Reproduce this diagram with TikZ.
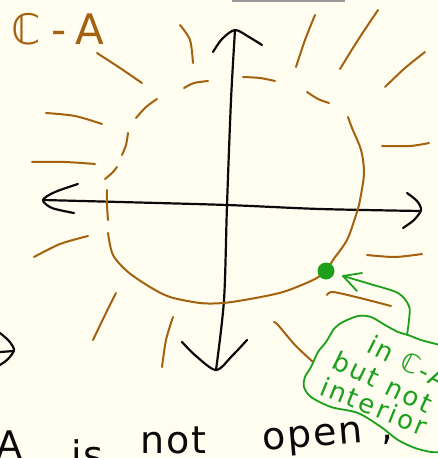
\documentclass[tikz,border=0pt]{standalone}
\usepackage{fontspec}
\setmainfont{DejaVu Sans}
\newfontfamily\handA[LetterSpace=25]{DejaVu Sans}
\newfontfamily\handB[LetterSpace=10]{DejaVu Sans}
\newfontfamily\handC[LetterSpace=5]{DejaVu Sans}
\definecolor{paper}{RGB}{254,253,240}
\definecolor{penbrown}{RGB}{164,98,16}
\definecolor{pengreen}{RGB}{28,160,28}
\definecolor{penblack}{RGB}{10,10,10}
\tikzset{
  brownstroke/.style={draw=penbrown, line width=2pt, line cap=round, line join=round},
  blackstroke/.style={draw=penblack, line width=2.2pt, line cap=round, line join=round},
  greenstroke/.style={draw=pengreen, line width=1.8pt, line cap=round, line join=round},
  greentext/.style={text=pengreen, inner sep=0pt, anchor=base west, font=\handB\fontsize{26}{26}\selectfont},
  blacktext/.style={text=penblack, inner sep=0pt, anchor=base west, font=\handC\fontsize{38}{38}\selectfont},
}
\begin{document}
\begin{tikzpicture}[x=1pt,y=-1pt]
\useasboundingbox (0,0) rectangle (438,458);
\fill[paper] (0,0) rectangle (438,458);
\clip (0,0) rectangle (438,458);
% top grey sliver
\draw[gray!80, line width=2pt] (232,0.5) -- (345,0.5);
% title
\node[text=penbrown, inner sep=0pt, anchor=base west, font=\handA\fontsize{42}{42}\selectfont] (title) at (11,44) {ℂ-A};
% axes
\draw[blackstroke] plot[smooth] coordinates {(43,200) (120,202) (227,205) (320,209) (421,211)};
\draw[blackstroke] plot[smooth] coordinates {(78,184) (55,192) (43,200) (52,208) (74,213)};
\draw[blackstroke] plot[smooth] coordinates {(407,193) (417,201) (421,210) (414,220) (403,228)};
\draw[blackstroke] plot[smooth] coordinates {(235,30) (231,100) (227,205) (224,300) (216,370)};
\draw[blackstroke] plot[smooth] coordinates {(213,52) (222,39) (235,30) (249,37) (262,45)};
\draw[blackstroke] plot[smooth] coordinates {(182,342) (196,356) (216,370) (232,356) (247,340)};
% left-edge fragment
\draw[blackstroke] plot[smooth] coordinates {(0,333) (9,341) (14,350) (8,359) (0,365)};
\draw[blackstroke] (0,352) -- (14,351);
% brown boundary (solid part)
\draw[brownstroke] plot[smooth] coordinates {(348,117) (352,128) (361,150) (364,173) (360,200) (356,215) (347,240) (333,260) (326,271) (313,280) (283,292) (250,299) (223,303) (200,303) (170,297) (150,287) (128,272) (113,255) (108,233)};
% brown boundary (dashed part)
\draw[brownstroke] plot[smooth] coordinates {(107,190) (107,205) (108,220)};
\draw[brownstroke] plot[smooth] coordinates {(105,179) (112,173) (117,167)};
\draw[brownstroke] plot[smooth] coordinates {(122,155) (126,145) (128,133)};
\draw[brownstroke] plot[smooth] coordinates {(136,118) (146,107) (157,99)};
\draw[brownstroke] plot[smooth] coordinates {(184,88) (194,83) (208,81)};
\draw[brownstroke] plot[smooth] coordinates {(243,77) (260,78) (275,81)};
\draw[brownstroke] plot[smooth] coordinates {(307,92) (318,99) (329,103)};
% rays
\draw[brownstroke] plot[smooth] coordinates {(180,25) (190,40) (193,63)};
\draw[brownstroke] plot[smooth] coordinates {(97,53) (120,68) (142,83)};
\draw[brownstroke] plot[smooth] coordinates {(46,113) (75,116) (102,124)};
\draw[brownstroke] plot[smooth] coordinates {(32,162) (65,162) (95,164)};
\draw[brownstroke] plot[smooth] coordinates {(34,257) (60,244) (88,236)};
\draw[brownstroke] plot[smooth] coordinates {(93,340) (105,315) (116,293)};
\draw[brownstroke] plot[smooth] coordinates {(162,367) (166,340) (173,317)};
\draw[brownstroke] plot[smooth] coordinates {(274,322) (278,325) (295,345) (313,362)};
\draw[brownstroke] plot[smooth] coordinates {(327,295) (333,292) (360,298) (391,306)};
\draw[brownstroke] plot[smooth] coordinates {(367,255) (395,257) (422,254)};
\draw[brownstroke] plot[smooth] coordinates {(382,146) (410,146) (429,143)};
\draw[brownstroke] plot[smooth] coordinates {(385,87) (405,68) (425,52)};
\draw[brownstroke] plot[smooth] coordinates {(340,69) (358,40) (378,10)};
\draw[brownstroke] plot[smooth] coordinates {(296,67) (305,40) (315,15)};
% green point
\fill[pengreen] (326,271) circle (8.5);
\coordinate (dot) at (326,271);
% green arrow
\coordinate (tip) at (343,276);
\draw[greenstroke] plot[smooth] coordinates {(tip) (370,284) (398,293) (409,306) (409,320) (407,335)};
\draw[greenstroke] (tip) -- (362,273);
\draw[greenstroke] (tip) -- (357,291);
% cloud
\draw[greenstroke] plot[smooth] coordinates {(333,330) (341,323) (358,316) (371,317) (385,325) (398,332) (408,335) (421,340) (440,345)};
\draw[greenstroke] plot[smooth] coordinates {(333,330) (326,342) (318,352) (311,367) (305,377) (304,387) (311,397) (331,407) (358,413) (381,427) (398,440) (415,448) (431,452) (442,452)};
% green text
\node[greentext, rotate=-27] (l1) at (365,351) {in ℂ-A};
\node[greentext, rotate=-26] (l2) at (330,367) {but not};
\node[greentext, rotate=-22] (l3) at (318,394) {interior};
% bottom text
\node[blacktext] (wA) at (-4,458) {A};
\node[blacktext] (wis) at (71,468) {is};
\node[blacktext] (wnot) at (140,453) {not};
\node[blacktext, rotate=5] (wopen) at (263,451) {open\hspace{18pt},};
\end{tikzpicture}
\end{document}
